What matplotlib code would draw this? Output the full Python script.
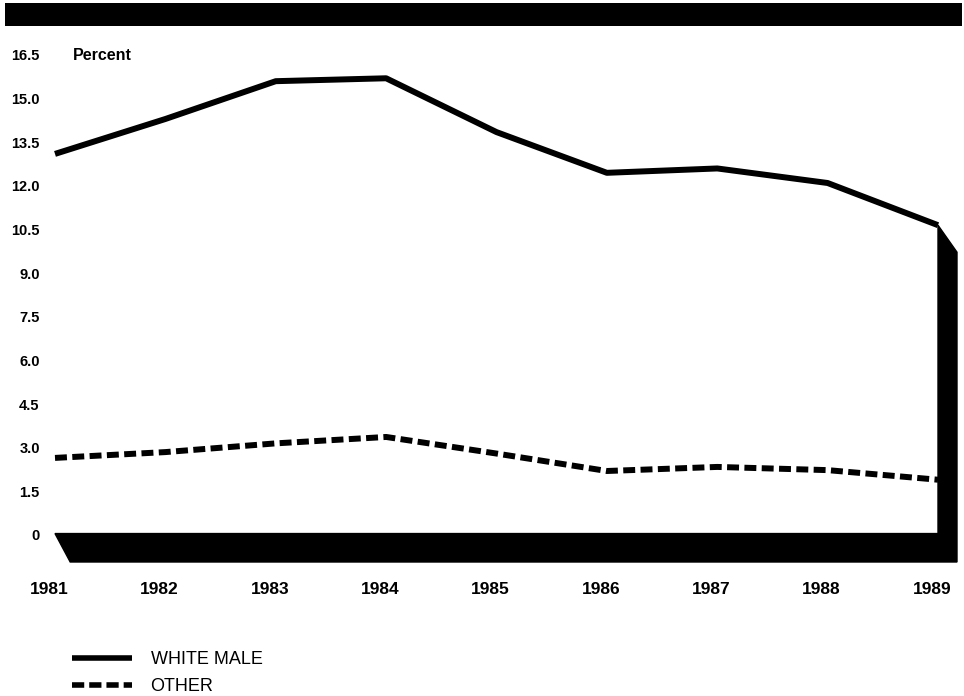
import matplotlib
matplotlib.use("Agg")
import matplotlib.pyplot as plt
from matplotlib.patches import Polygon, Rectangle
from matplotlib.lines import Line2D
from matplotlib.transforms import ScaledTranslation

# Series (percent)
years = [1981, 1982, 1983, 1984, 1985, 1986, 1987, 1988, 1989]
white_male = [13.1, 14.3, 15.6, 15.7, 13.85, 12.45, 12.6, 12.1, 10.65]
other = [2.65, 2.85, 3.15, 3.37, 2.8, 2.2, 2.34, 2.23, 1.9]

y_ticks = [0, 1.5, 3.0, 4.5, 6.0, 7.5, 9.0, 10.5, 12.0, 13.5, 15.0, 16.5]
y_tick_labels = ["0", "1.5", "3.0", "4.5", "6.0", "7.5", "9.0", "10.5",
                 "12.0", "13.5", "15.0", "16.5"]
series_names = ["WHITE MALE", "OTHER"]

W, H = 964, 696
fig = plt.figure(figsize=(W / 100, H / 100), dpi=100)
fig.patch.set_facecolor("white")

# plot area in pixel terms: x 55..938, y 55..535 (from top)
left_px, right_px, top_px, bottom_px = 55, 938, 55, 535
ax = fig.add_axes([left_px / W, 1 - bottom_px / H,
                   (right_px - left_px) / W, (bottom_px - top_px) / H])
ax.set_xlim(years[0], years[-1])
ax.set_ylim(0, 16.5)
for s in ax.spines.values():
    s.set_visible(False)
ax.set_facecolor("none")

font = "Liberation Sans"
ax.set_yticks(y_ticks)
ax.set_yticklabels(y_tick_labels, fontsize=10.5, fontweight="bold",
                   family=font)
ax.tick_params(axis="y", length=0, pad=11)
ax.set_xticks(years)
ax.set_xticklabels([str(y) for y in years], fontsize=12.5, fontweight="bold",
                   family=font)
ax.tick_params(axis="x", length=0, pad=34)
shift = ScaledTranslation(-6 / 100, 0, fig.dpi_scale_trans)
for lab in ax.get_xticklabels():
    lab.set_transform(lab.get_transform() + shift)

# depth of the 3-D floor / side wall, converted from pixels to data units
px_per_year = (right_px - left_px) / (years[-1] - years[0])
px_per_unit = (bottom_px - top_px) / 16.5
dx = 19 / px_per_year
dy = -27 / px_per_unit

floor = Polygon([(years[0], 0.05), (years[-1], 0.05),
                 (years[-1], white_male[-1]),
                 (years[-1] + dx, white_male[-1] + dy),
                 (years[-1] + dx, dy), (years[0] + dx * 0.8, dy)],
                closed=True, facecolor="black", edgecolor="black",
                clip_on=False, zorder=1)
ax.add_patch(floor)

l1, = ax.plot(years, white_male, color="black", lw=4.3,
              solid_capstyle="butt", solid_joinstyle="round",
              clip_on=False, zorder=3, label=series_names[0])
l2, = ax.plot(years, other, color="black", lw=4.3, linestyle=(0, (2.0, 0.9)),
              dash_capstyle="butt", clip_on=False, zorder=3,
              label=series_names[1])

ax.text(years[0] + 18 / px_per_year, 16.5, "Percent", ha="left", va="center",
        fontsize=11.5, fontweight="bold", family=font)

# heavy band across the top
fig.patches.append(Rectangle((5 / W, 1 - 26 / H), 957 / W, 23 / H,
                             transform=fig.transFigure, facecolor="black",
                             edgecolor="none"))

h1 = Line2D([], [], color="black", lw=4.0, solid_capstyle="butt")
h2 = Line2D([], [], color="black", lw=4.0, linestyle=(0, (2.2, 0.9)),
            dash_capstyle="butt")
fig.legend([h1, h2], series_names, loc="upper left",
           bbox_to_anchor=(72 / W, 1 - 651 / H), frameon=False,
           prop={"family": font, "size": 13}, handlelength=3.3,
           handletextpad=1.05, labelspacing=0.55, borderpad=0,
           borderaxespad=0)

fig.savefig("out.png", dpi=100)
